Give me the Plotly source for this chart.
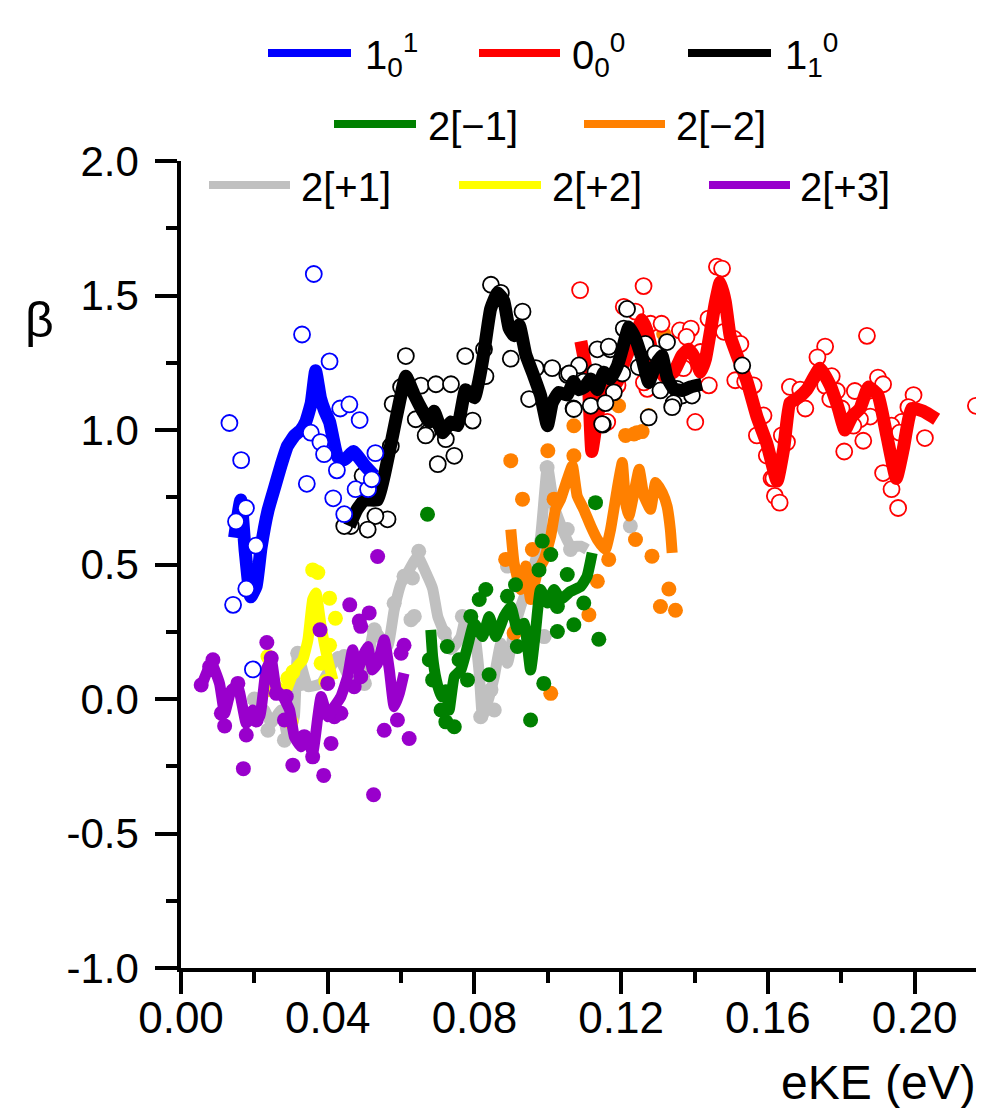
import plotly.graph_objects as go

# ---------------- data ----------------
# 1_0^1 (blue)
blue_line_x = [0.0146, 0.0163, 0.0175, 0.019, 0.0205, 0.0218, 0.0237, 0.0256, 0.0273, 0.029, 0.031, 0.0327,
               0.034, 0.0355, 0.0367, 0.038, 0.0392, 0.0405, 0.0427, 0.0446, 0.047, 0.050, 0.0527]
blue_line_y = [0.60, 0.74, 0.55, 0.38, 0.42, 0.56, 0.70, 0.79, 0.87, 0.94, 0.98, 1.00,
               1.03, 1.10, 1.22, 1.12, 1.07, 1.03, 0.90, 0.89, 0.92, 0.87, 0.83]
blue_pts_x = [0.0132, 0.0164, 0.0177, 0.015, 0.0142, 0.0178, 0.0196, 0.0204, 0.033, 0.0362, 0.0405, 0.0354,
              0.038, 0.039, 0.0434, 0.0459, 0.0487, 0.0425, 0.0343, 0.053, 0.0415, 0.0445, 0.0476, 0.051, 0.052]
blue_pts_y = [1.026, 0.888, 0.71, 0.66, 0.35, 0.41, 0.11, 0.57, 1.355, 1.58, 1.255, 0.99,
              0.955, 0.91, 1.08, 1.095, 1.037, 0.85, 0.80, 0.914, 0.746, 0.687, 0.78, 0.78, 0.817]

# 0_0^0 (red)
red_line_x = [0.109, 0.111, 0.112, 0.1135, 0.115, 0.117, 0.119, 0.121, 0.1235, 0.1257, 0.127, 0.129, 0.1316,
              0.1343, 0.1366, 0.1384, 0.1402, 0.1416, 0.143, 0.1443, 0.1457, 0.147, 0.1484, 0.1497, 0.1516,
              0.1543, 0.157, 0.1597, 0.1625, 0.1643, 0.166, 0.1683, 0.1706, 0.1742, 0.177, 0.1792, 0.181,
              0.1829, 0.1851, 0.1874, 0.19, 0.1924, 0.195, 0.1969, 0.1992, 0.2024, 0.206]
red_line_y = [1.33, 1.18, 0.92, 1.05, 1.13, 1.15, 1.18, 1.26, 1.34, 1.41, 1.37, 1.265, 1.20,
              1.215, 1.277, 1.30, 1.265, 1.215, 1.265, 1.365, 1.476, 1.55, 1.476, 1.35, 1.277,
              1.18, 1.05, 0.95, 0.81, 0.93, 1.10, 1.12, 1.15, 1.23, 1.165, 1.08, 1.00,
              1.05, 1.08, 1.16, 1.13, 0.98, 0.82, 0.93, 1.08, 1.07, 1.04]
red_pts_x = [0.1088, 0.1261, 0.1461, 0.1475, 0.1207, 0.1239, 0.128, 0.131, 0.136, 0.139, 0.1378, 0.1438,
             0.148, 0.1507, 0.1525, 0.1416, 0.137, 0.1439, 0.1511, 0.1538, 0.1561, 0.1271, 0.1262, 0.1402,
             0.1588, 0.157, 0.1597, 0.161, 0.1619, 0.1162, 0.119,
             0.187, 0.1756, 0.1735, 0.166, 0.1688, 0.1702, 0.1756, 0.1774, 0.1788, 0.177, 0.1837, 0.19,
             0.1914, 0.1888, 0.1879, 0.1851, 0.1801, 0.1833, 0.186, 0.1808, 0.1997, 0.1983, 0.1965, 0.1937,
             0.1959, 0.2028, 0.1914, 0.1937, 0.1955, 0.1632, 0.1615, 0.1638, 0.1652, 0.2167]
red_pts_y = [1.52, 1.535, 1.607, 1.60, 1.458, 1.44, 1.395, 1.395, 1.37, 1.377, 1.346, 1.414,
             1.365, 1.34, 1.32, 1.29, 1.23, 1.166, 1.185, 1.18, 1.166, 1.153, 1.177, 1.03,
             1.054, 0.98, 0.905, 0.82, 0.755, 1.03, 1.166,
             1.35, 1.31, 1.27, 1.16, 1.15, 1.08, 1.165, 1.20, 1.145, 1.115, 1.145, 1.195,
             1.17, 1.09, 1.05, 1.04, 1.08, 1.016, 0.96, 0.92, 1.13, 1.085, 1.03, 1.016,
             0.99, 0.97, 0.84, 0.78, 0.71, 0.73, 0.82, 0.98, 0.955, 1.09]

# 1_1^0 (black)
black_line_x = [0.0459, 0.048, 0.050, 0.0536, 0.0554, 0.0577, 0.0595, 0.0613, 0.0636, 0.0659, 0.0677, 0.069,
                0.0713, 0.0736, 0.0754, 0.0776, 0.080, 0.0813, 0.0826, 0.0844, 0.0863, 0.088, 0.0894, 0.0908,
                0.0922, 0.094, 0.0962, 0.098, 0.0999, 0.1012, 0.103, 0.1053, 0.107, 0.1085, 0.110, 0.1117,
                0.1135, 0.1153, 0.117, 0.119, 0.1203, 0.1221, 0.1239, 0.1257, 0.1275, 0.1293, 0.1311, 0.1325,
                0.1343, 0.1366, 0.1389, 0.142]
black_line_y = [0.643, 0.705, 0.74, 0.74, 0.83, 0.98, 1.10, 1.20, 1.13, 1.07, 1.03, 1.07,
                0.99, 1.03, 1.016, 1.15, 1.12, 1.19, 1.29, 1.45, 1.51, 1.48, 1.38, 1.35,
                1.39, 1.28, 1.20, 1.13, 1.016, 1.10, 1.14, 1.13, 1.18, 1.15, 1.16, 1.19,
                1.15, 1.215, 1.19, 1.24, 1.30, 1.383, 1.34, 1.265, 1.177, 1.24, 1.277, 1.196,
                1.153, 1.147, 1.16, 1.17]
black_pts_x = [0.0613, 0.0775, 0.0577, 0.060, 0.0654, 0.0695, 0.0736, 0.064, 0.0672, 0.0667, 0.0722, 0.0795,
               0.070, 0.0745, 0.0845, 0.0872, 0.0931, 0.0899, 0.0967, 0.0949, 0.1012, 0.1053, 0.1085, 0.1135,
               0.117, 0.1117, 0.115, 0.107, 0.0518, 0.0495, 0.0563, 0.053, 0.0509, 0.0463, 0.0445, 0.0572,
               0.0826, 0.083, 0.1216, 0.1207, 0.1166, 0.1098, 0.1058, 0.1266, 0.1293, 0.1325, 0.1248, 0.1203,
               0.113, 0.1307, 0.1352, 0.1366, 0.1393, 0.1343, 0.1339, 0.118, 0.1157, 0.1071, 0.1148, 0.1275,
               0.153]
black_pts_y = [1.275, 1.275, 1.097, 1.16, 1.165, 1.17, 1.17, 1.04, 0.99, 0.98, 0.966, 1.035,
               0.873, 0.904, 1.54, 1.51, 1.44, 1.265, 1.23, 1.115, 1.23, 1.205, 1.24, 1.30,
               1.30, 1.09, 1.02, 1.08, 0.786, 0.83, 0.668, 0.68, 0.63, 0.643, 0.643, 0.94,
               1.30, 1.20, 1.45, 1.377, 1.31, 1.18, 1.21, 1.32, 1.284, 1.327, 1.234, 1.21,
               1.215, 1.147, 1.153, 1.128, 1.128, 1.10, 1.085, 1.14, 1.10, 1.078, 1.022, 1.047,
               1.24]

# 2[-1] (green)
green_line_x = [0.0681, 0.0686, 0.0696, 0.0709, 0.0722, 0.0731, 0.0745, 0.0763, 0.0781, 0.0799, 0.0822, 0.084,
                0.0858, 0.0881, 0.0899, 0.0917, 0.0935, 0.0953, 0.0967, 0.098, 0.0999, 0.1017, 0.1035, 0.1062,
                0.109, 0.1107, 0.1121]
green_line_y = [0.257, 0.158, 0.071, 0.009, 0.034, -0.041, 0.083, 0.108, 0.195, 0.282, 0.232, 0.307,
                0.232, 0.307, 0.344, 0.257, 0.282, 0.108, 0.257, 0.407, 0.357, 0.407, 0.37, 0.40,
                0.419, 0.456, 0.543]
green_pts_x = [0.0672, 0.0985, 0.1008, 0.0976, 0.1053, 0.0831, 0.0813, 0.089, 0.0912, 0.079, 0.1071, 0.1026,
               0.0726, 0.0677, 0.0758, 0.084, 0.0686, 0.0781, 0.0989, 0.0709, 0.0722, 0.0745, 0.0953, 0.0917,
               0.113, 0.1139, 0.1098, 0.1026]
green_pts_y = [0.687, 0.587, 0.537, 0.48, 0.463, 0.407, 0.37, 0.382, 0.425, 0.307, 0.276, 0.251,
               0.195, 0.146, 0.146, 0.09, 0.071, 0.071, 0.058, -0.041, -0.085, -0.103, -0.078, 0.195,
               0.73, 0.222, 0.357, 0.344]

# 2[-2] (orange)
orange_line_x = [0.0899, 0.0908, 0.0926, 0.094, 0.0953, 0.0971, 0.099, 0.1008, 0.1021, 0.1035, 0.1053, 0.1067,
                 0.108, 0.1098, 0.1117, 0.1135, 0.1157, 0.1171, 0.1189, 0.1203, 0.1212, 0.1221, 0.1235, 0.1249,
                 0.1262, 0.128, 0.1294, 0.1312, 0.1325, 0.1334, 0.1339]
orange_line_y = [0.63, 0.506, 0.407, 0.494, 0.37, 0.469, 0.519, 0.606, 0.705, 0.743, 0.817, 0.867,
                 0.755, 0.705, 0.643, 0.593, 0.556, 0.63, 0.78, 0.879, 0.73, 0.68, 0.767, 0.854,
                 0.755, 0.705, 0.805, 0.767, 0.717, 0.63, 0.543]
orange_pts_x = [0.0899, 0.0931, 0.100, 0.1071, 0.112, 0.1193, 0.1275, 0.1257, 0.1235, 0.1316, 0.1071, 0.1017,
                0.1284, 0.133, 0.1307, 0.1348, 0.1112, 0.1135, 0.1166, 0.1239, 0.1212, 0.1243, 0.0885, 0.0958,
                0.1008, 0.0908]
orange_pts_y = [0.886, 0.743, 0.923, 1.016, 1.035, 1.09, 1.054, 0.994, 0.985, 1.358, 0.904, 0.743,
                0.531, 0.409, 0.344, 0.33, 0.313, 0.438, 0.519, 0.593, 0.98, 0.99, 0.519, 0.556,
                0.021, 0.245]

# 2[+1] (grey)
grey_line_x = [0.0191, 0.0228, 0.0246, 0.0273, 0.0291, 0.0309, 0.0318, 0.0346, 0.0382, 0.0427, 0.0472, 0.050,
               0.0527, 0.0563, 0.0581, 0.060, 0.0618, 0.0645, 0.0672, 0.0686, 0.070, 0.0718, 0.0736, 0.0763,
               0.0777, 0.0799, 0.0813, 0.0822, 0.0835, 0.0854, 0.0872, 0.089, 0.0908, 0.0926, 0.0953, 0.098,
               0.0999, 0.1017, 0.1044, 0.1062, 0.109, 0.1107]
grey_line_y = [0.0, -0.041, -0.09, -0.041, -0.14, -0.066, 0.17, 0.046, 0.058, 0.158, 0.046, 0.083,
               0.257, 0.195, 0.33, 0.43, 0.47, 0.53, 0.456, 0.41, 0.307, 0.245, 0.183, 0.232,
               0.307, 0.257, 0.096, -0.066, -0.016, 0.083, 0.207, 0.133, 0.257, 0.344, 0.444, 0.60,
               0.867, 0.717, 0.617, 0.568, 0.568, 0.556]
grey_pts_x = [0.0648, 0.0631, 0.0636, 0.0718, 0.0767, 0.0786, 0.0817, 0.0854, 0.0845, 0.089, 0.099, 0.1053,
              0.1062, 0.0608, 0.0627, 0.0581, 0.0318, 0.0445, 0.020, 0.0237, 0.0282, 0.0327, 0.0527, 0.050,
              0.1225, 0.0998]
grey_pts_y = [0.549, 0.45, 0.307, 0.245, 0.307, 0.232, -0.066, -0.041, 0.034, 0.494, 0.232, 0.63,
              0.556, 0.456, 0.295, 0.356, 0.17, 0.158, 0.0, -0.116, -0.153, 0.058, 0.257, 0.058,
              0.643, 0.86]

# 2[+2] (yellow)
yellow_line_x = [0.0237, 0.0255, 0.0282, 0.0309, 0.0332, 0.0346, 0.0359, 0.0368, 0.0382, 0.040, 0.0414]
yellow_line_y = [0.034, 0.058, 0.021, 0.108, 0.146, 0.22, 0.37, 0.394, 0.27, 0.146, 0.071]
yellow_pts_x = [0.0359, 0.0373, 0.0405, 0.0421, 0.0405, 0.0382, 0.0395, 0.0305, 0.0291, 0.0237, 0.0246, 0.030]
yellow_pts_y = [0.48, 0.47, 0.375, 0.30, 0.20, 0.133, 0.065, 0.10, 0.077, 0.158, 0.034, -0.085]

# 2[+3] (purple)
purple_line_x = [0.0055, 0.0083, 0.0105, 0.0119, 0.0137, 0.0155, 0.0178, 0.0196, 0.0214, 0.0232, 0.0246, 0.026,
                 0.0278, 0.0296, 0.0309, 0.0327, 0.0341, 0.0359, 0.0373, 0.0382, 0.040, 0.0418, 0.0436, 0.0454,
                 0.0468, 0.0482, 0.0495, 0.0509, 0.0522, 0.0536, 0.0554, 0.0568, 0.0581, 0.0595, 0.0608]
purple_line_y = [0.046, 0.133, 0.058, -0.053, 0.034, 0.046, -0.091, -0.041, -0.066, 0.108, 0.146, 0.034,
                 0.009, -0.041, -0.14, -0.178, -0.14, -0.20, -0.066, 0.009, -0.066, -0.029, 0.009, 0.083,
                 0.183, 0.108, 0.158, 0.195, 0.108, 0.133, 0.22, 0.108, -0.029, 0.021, 0.096]
purple_pts_x = [0.0536, 0.046, 0.0513, 0.0486, 0.049, 0.0379, 0.0234, 0.0608, 0.060, 0.0087, 0.0078, 0.0246,
                0.0055, 0.0155, 0.040, 0.0472, 0.049, 0.026, 0.0287, 0.011, 0.0119, 0.0205, 0.0178, 0.0282,
                0.0418, 0.0436, 0.0554, 0.059, 0.0622, 0.0409, 0.0305, 0.0359, 0.017, 0.0389, 0.0525, 0.0336,
                0.0323]
purple_pts_y = [0.53, 0.35, 0.32, 0.29, 0.27, 0.257, 0.21, 0.20, 0.17, 0.146, 0.12, 0.152,
                0.052, 0.058, 0.058, 0.046, 0.083, 0.021, 0.009, -0.053, -0.10, -0.078, -0.134, -0.078,
                -0.066, -0.053, -0.116, -0.078, -0.147, -0.165, -0.246, -0.215, -0.259, -0.284, -0.356, -0.14,
                -0.153]

legend_labels = ["1<sub>0</sub><sup>1</sup>", "0<sub>0</sub><sup>0</sup>", "1<sub>1</sub><sup>0</sup>",
                 "2[\u22121]", "2[\u22122]", "2[+1]", "2[+2]", "2[+3]"]
x_ticks = [0.00, 0.04, 0.08, 0.12, 0.16, 0.20]
y_ticks = [-1.0, -0.5, 0.0, 0.5, 1.0, 1.5, 2.0]

# ---------------- figure ----------------
W, H = 984, 1108
L, T, PW, PH = 173, 153, 807, 807
B = H - T - PH
R = W - L - PW

BLUE, RED, BLACK = "#0000ff", "#ff0000", "#000000"
GREEN, ORANGE = "#008000", "#ff8000"
GREY, YELLOW, PURPLE = "#c0c0c0", "#ffff00", "#9900cc"

FONT = "Liberation Sans, Arial, sans-serif"

fig = go.Figure()
MS = 16


def add_filled(xs, ys, col):
    fig.add_trace(go.Scatter(x=xs, y=ys, mode="markers", showlegend=False,
                             marker=dict(color=col, size=MS - 1, line=dict(width=0))))


def add_open(xs, ys, col):
    fig.add_trace(go.Scatter(x=xs, y=ys, mode="markers", showlegend=False,
                             marker=dict(color="white", size=MS, line=dict(color=col, width=1.8))))


def add_line(xs, ys, col, w):
    fig.add_trace(go.Scatter(x=xs, y=ys, mode="lines", showlegend=False,
                             line=dict(color=col, width=w, shape="spline", smoothing=0.4)))


add_filled(grey_pts_x, grey_pts_y, GREY)
add_line(grey_line_x, grey_line_y, GREY, 11)
add_filled(yellow_pts_x, yellow_pts_y, YELLOW)
add_line(yellow_line_x, yellow_line_y, YELLOW, 11)
add_filled(purple_pts_x, purple_pts_y, PURPLE)
add_line(purple_line_x, purple_line_y, PURPLE, 11)
add_filled(orange_pts_x, orange_pts_y, ORANGE)
add_line(orange_line_x, orange_line_y, ORANGE, 11)
add_filled(green_pts_x, green_pts_y, GREEN)
add_line(green_line_x, green_line_y, GREEN, 11)
add_open(red_pts_x, red_pts_y, RED)
add_line(red_line_x, red_line_y, RED, 13)
add_open(black_pts_x, black_pts_y, BLACK)
add_line(black_line_x, black_line_y, BLACK, 13)
add_line(blue_line_x, blue_line_y, BLUE, 13)
add_open(blue_pts_x, blue_pts_y, BLUE)


def px(xp):
    return (xp - L) / PW


def py(yp):
    return (H - B - yp) / PH


# manual legend (rows as in the original)
legend_rows = [
    (45, [(260, 343, 355, BLUE, 0), (471, 552, 562, RED, 1), (680, 763, 775, BLACK, 2)]),
    (116, [(326, 408, 418, GREEN, 3), (576, 657, 666, ORANGE, 4)]),
    (177, [(201, 282, 291, GREY, 5), (451, 533, 542, YELLOW, 6), (701, 782, 790, PURPLE, 7)]),
]
shapes = []
annotations = []
LEG_FONT = dict(family=FONT, size=40, color="black")
for yrow, items in legend_rows:
    for x0, x1, xt, col, idx in items:
        shapes.append(dict(type="line", xref="paper", yref="paper",
                           x0=px(x0), x1=px(x1), y0=py(yrow), y1=py(yrow),
                           line=dict(color=col, width=8)))
        annotations.append(dict(xref="paper", yref="paper", x=px(xt), y=py(yrow + 2),
                                xanchor="left", yanchor="middle", showarrow=False,
                                text=legend_labels[idx], font=LEG_FONT))

annotations.append(dict(xref="paper", yref="paper", x=px(31), y=py(312), xanchor="center", yanchor="middle",
                        showarrow=False, text="\u03b2",
                        font=dict(family=FONT, size=50, color="black")))
annotations.append(dict(xref="paper", yref="paper", x=px(970), y=py(1074), xanchor="right", yanchor="middle",
                        showarrow=False, text="eKE (eV)",
                        font=dict(family=FONT, size=48, color="black")))

fig.update_layout(
    width=W, height=H,
    margin=dict(l=L, r=R, t=T, b=B, pad=0),
    paper_bgcolor="white", plot_bgcolor="white",
    showlegend=False,
    shapes=shapes,
    annotations=annotations,
    xaxis=dict(range=[0, 0.22], tickvals=x_ticks, ticktext=[f"{v:.2f}" for v in x_ticks],
               showgrid=False, zeroline=False, showline=True, linecolor="black", linewidth=3.5,
               ticks="outside", ticklen=22, tickwidth=3.5, tickcolor="black",
               minor=dict(dtick=0.02, tick0=0, ticks="outside", ticklen=11, tickwidth=3.5,
                          tickcolor="black", showgrid=False),
               tickfont=dict(family=FONT, size=44, color="black"),
               ticklabelstandoff=-14, fixedrange=True),
    yaxis=dict(range=[-1.0, 2.0], tickvals=y_ticks, ticktext=[f"{v:.1f}" for v in y_ticks],
               showgrid=False, zeroline=False, showline=True, linecolor="black", linewidth=3.5,
               ticks="outside", ticklen=22, tickwidth=3.5, tickcolor="black",
               minor=dict(dtick=0.25, tick0=0, ticks="outside", ticklen=11, tickwidth=3.5,
                          tickcolor="black", showgrid=False),
               tickfont=dict(family=FONT, size=42, color="black"),
               ticklabelstandoff=8, fixedrange=True),
)

fig.write_html("out.html")
